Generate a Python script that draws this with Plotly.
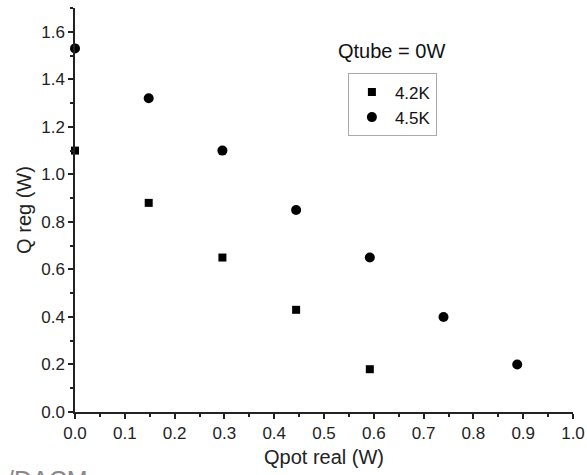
import plotly.graph_objects as go

x_42 = [0.0, 0.148, 0.296, 0.444, 0.592]
y_42 = [1.10, 0.88, 0.65, 0.43, 0.18]
x_45 = [0.0, 0.148, 0.296, 0.444, 0.592, 0.740, 0.888]
y_45 = [1.53, 1.32, 1.10, 0.85, 0.65, 0.40, 0.20]

FONT = "Liberation Sans, Arial, sans-serif"

fig = go.Figure()
fig.add_trace(go.Scatter(x=x_42, y=y_42, mode="markers", name="4.2K",
                         marker=dict(symbol="square", size=8, color="black"),
                         cliponaxis=False))
fig.add_trace(go.Scatter(x=x_45, y=y_45, mode="markers", name="4.5K",
                         marker=dict(symbol="circle", size=10, color="black"),
                         cliponaxis=False))

axis_common = dict(showgrid=False, zeroline=False, showline=True, linecolor="#222",
                   linewidth=1.5, ticks="outside", ticklen=5, tickwidth=1.5,
                   tickcolor="#222", tickfont=dict(family=FONT, size=17, color="#222"),
                   mirror=False, automargin=False)

fig.update_xaxes(range=[0, 1.0], dtick=0.1, tick0=0, tickformat=".1f",
                 title=dict(text="Qpot real (W)", font=dict(family=FONT, size=20, color="#222"), standoff=8),
                 minor=dict(dtick=0.05, ticks="outside", ticklen=3, tickwidth=1.5, tickcolor="#222"),
                 **axis_common)
fig.update_yaxes(range=[0, 1.7], dtick=0.2, tick0=0, tickformat=".1f",
                 title=dict(text="Q reg (W)", font=dict(family=FONT, size=20, color="#222"), standoff=4),
                 minor=dict(dtick=0.1, ticks="outside", ticklen=3, tickwidth=1.5, tickcolor="#222"),
                 **axis_common)

fig.add_annotation(text="Qtube = 0W", xref="paper", yref="paper", x=0.635, y=0.893,
                   xanchor="center", yanchor="middle", showarrow=False,
                   font=dict(family=FONT, size=20, color="#111"))
fig.add_annotation(text="Irfu/DACM", xref="paper", yref="paper", x=0.03, y=-0.128,
                   xanchor="right", yanchor="top", showarrow=False,
                   font=dict(family=FONT, size=25, color="#888"))

fig.update_layout(
    width=587, height=475,
    margin=dict(l=75, r=14, t=8, b=63),
    plot_bgcolor="white", paper_bgcolor="white",
    legend=dict(x=0.548, y=0.838, xanchor="left", yanchor="top",
                bordercolor="#aaa", borderwidth=1, bgcolor="white",
                font=dict(family=FONT, size=17, color="#111"),
                itemwidth=36, tracegroupgap=0),
)

fig.write_html("out.html")
